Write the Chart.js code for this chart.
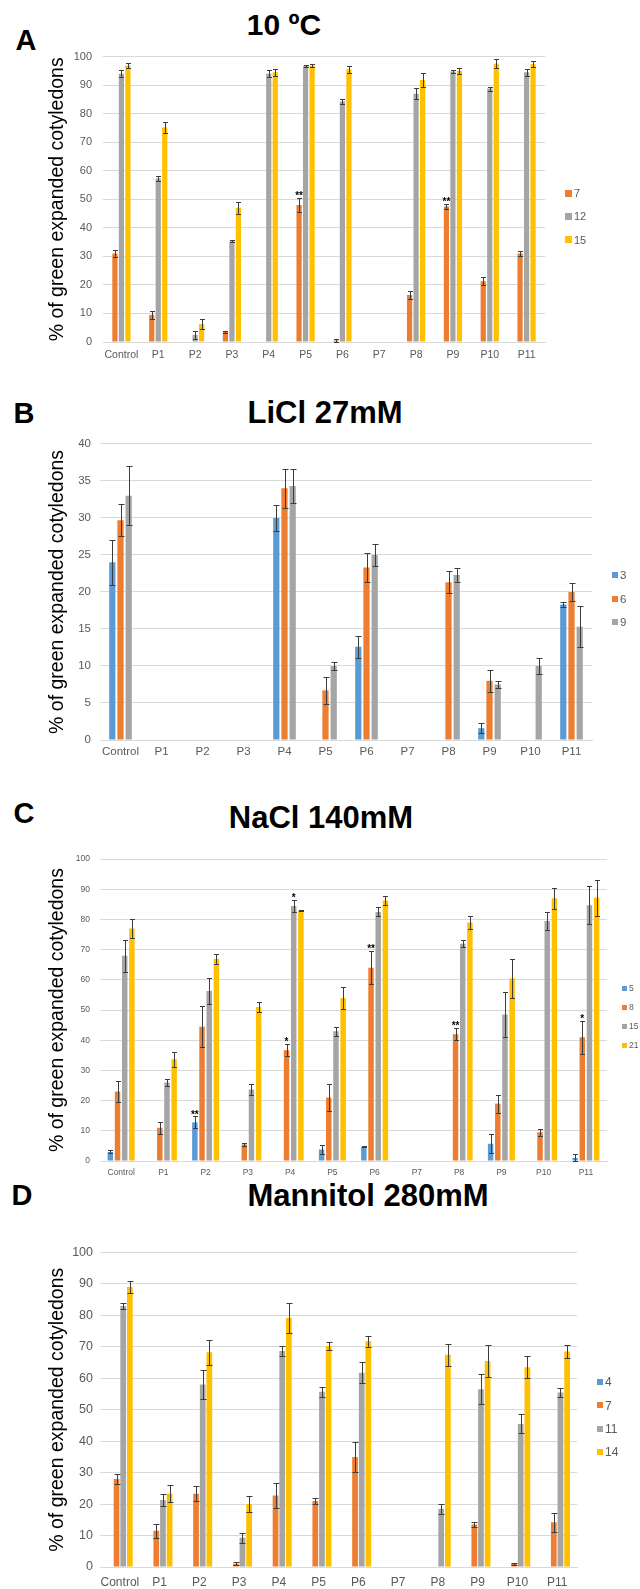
<!DOCTYPE html>
<html>
<head>
<meta charset="utf-8">
<script src="https://cdn.jsdelivr.net/npm/chart.js@4.4.1/dist/chart.umd.min.js"></script>
<style>
    body { margin: 0; background: #fff; width: 640px; height: 1589px; position: relative; overflow: hidden; font-family: "Liberation Sans", Arial, sans-serif; }
    canvas { position: absolute; left: 0; }
    .letter, .title { position: absolute; font-weight: bold; color: #000; line-height: 1; white-space: nowrap; transform: translate(-50%, -50%); }
    .letter { font-size: 29px; }
    .title { font-size: 31px; }
</style>
</head>
<body>
<div class="letter" style="left:26px; top:40px;">A</div>
<div class="title" style="left:284px; top:25px; font-size:30px;">10 ºC</div>
<div class="letter" style="left:24px; top:413px;">B</div>
<div class="title" style="left:325px; top:412px;">LiCl 27mM</div>
<div class="letter" style="left:24px; top:813px;">C</div>
<div class="title" style="left:321px; top:817px;">NaCl 140mM</div>
<div class="letter" style="left:22px; top:1195px;">D</div>
<div class="title" style="left:368px; top:1195px;">Mannitol 280mM</div>

<script>
const categories = ['Control', 'P1', 'P2', 'P3', 'P4', 'P5', 'P6', 'P7', 'P8', 'P9', 'P10', 'P11'];
const yTitle = '% of green expanded cotyledons';

// A - 10 ºC (days 7, 12, 15)
const cold7 = [31, 9.5, null, 3.5, null, 48, 0.5, null, 16.5, 47.5, 21.3, 31];
const cold7Err = [1.2, 1.3, null, 0.5, null, 2.5, 0.5, null, 1.5, 0.8, 1.5, 1];
const cold12 = [94, 57.3, 2.5, 35.3, 94, 96.8, 84.3, null, 87, 94.8, 88.8, 94.5];
const cold12Err = [1.2, 1, 1.5, 0.3, 1.2, 0.3, 0.8, null, 2, 0.5, 0.7, 1.2];
const cold15 = [96.8, 75.2, 6.3, 47, 94.5, 96.8, 95.5, null, 91.8, 95, 97.5, 97.3];
const cold15Err = [0.8, 2, 1.7, 2, 1.2, 0.5, 1.2, null, 2.3, 1, 1.5, 1];
const coldSig = [{ series: 0, index: 5, text: '**' }, { series: 0, index: 9, text: '**' }];

// B - LiCl 27mM (days 3, 6, 9)
const licl3 = [24, null, null, null, 30, null, 12.6, null, null, 1.6, null, 18.3];
const licl3Err = [3, null, null, null, 1.7, null, 1.5, null, null, 0.7, null, 0.3];
const licl6 = [29.7, null, null, null, 34, 6.7, 23.3, null, 21.3, 8, null, 20];
const licl6Err = [2.2, null, null, null, 2.6, 1.8, 1.9, null, 1.5, 1.5, null, 1.2];
const licl9 = [33, null, null, null, 34.3, 10, 25, null, 22.3, 7.5, 10, 15.3];
const licl9Err = [4, null, null, null, 2.3, 0.5, 1.5, null, 0.9, 0.5, 1.1, 2.8];

// C - NaCl 140mM (days 5, 8, 15, 21)
const nacl5 = [3, null, 12.8, null, null, 3.8, 4.7, null, null, 5.7, null, 1];
const nacl5Err = [0.5, null, 2, null, null, 1.6, 0.2, null, null, 3.2, null, 1.3];
const nacl8 = [23, 11, 44.5, 5.5, 36.7, 21, 64, null, 42, 19, 9.5, 41];
const nacl8Err = [3.5, 2, 6.8, 0.6, 2, 4.5, 5.5, null, 2, 3, 1.2, 5.5];
const nacl15 = [68, 26, 56.3, 23.7, 84.5, 43, 82.5, null, 72, 48.5, 79.5, 84.7];
const nacl15Err = [5.3, 1.2, 4.2, 1.8, 2, 1.5, 1.5, null, 1.2, 7.5, 3, 6.3];
const nacl21 = [77, 33.7, 67, 51, 83, 54, 86.3, null, 79, 60.5, 87, 87.2];
const nacl21Err = [3.2, 2.5, 1.7, 1.6, 0.2, 3.5, 1.5, null, 2.2, 6.5, 3.5, 6];
const naclSig = [
    { series: 0, index: 2, text: '**' },
    { series: 1, index: 4, text: '*' },
    { series: 2, index: 4, text: '*' },
    { series: 1, index: 6, text: '**' },
    { series: 1, index: 8, text: '**' },
    { series: 1, index: 11, text: '*' }
];

// D - Mannitol 280mM (days 4, 7, 11, 14)
const mannitol4 = [null, null, null, null, null, null, null, null, null, null, null, null];
const mannitol7 = [28, 11.5, 23.3, 1, 22.7, 21, 35, null, null, 13.5, 1, 14.2];
const mannitol7Err = [1.5, 2.3, 2.3, 0.5, 4, 1, 4.8, null, null, 0.8, 0.3, 3];
const mannitol11 = [83, 21.3, 58, 9.3, 68.7, 55.7, 61.8, null, 18.5, 56.5, 45.5, 55.5];
const mannitol11Err = [1, 1.8, 4.5, 1.6, 1.7, 1.6, 3.3, null, 1.5, 4.8, 3, 1.3];
const mannitol14 = [89, 23.3, 68.3, 20, 79.2, 70.3, 71.8, null, 67.5, 65.5, 63.5, 68.5];
const mannitol14Err = [2, 2.7, 4, 2.6, 4.7, 1.2, 1.8, null, 3.5, 5, 3.5, 2];

const BLUE = '#5B9BD5', ORANGE = '#ED7D31', GRAY = '#A5A5A5', YELLOW = '#FFC000';

Chart.defaults.font.family = "'Liberation Sans', Arial, sans-serif";

// error bars drawn on top of bars
const errorBars = {
    id: 'errorBars',
    afterDatasetsDraw(chart, args, opts) {
        const ctx = chart.ctx;
        const y = chart.scales.y;
        ctx.save();
        ctx.strokeStyle = '#3c3c3c';
        ctx.lineWidth = 1;
        chart.data.datasets.forEach((ds, di) => {
            if (!ds.errors) return;
            chart.getDatasetMeta(di).data.forEach((bar, i) => {
                const v = ds.data[i], e = ds.errors[i];
                if (v == null || e == null) return;
                const x = Math.round(bar.x) + 0.5;
                const top = Math.round(y.getPixelForValue(v + e)) + 0.5;
                const bot = Math.round(y.getPixelForValue(Math.max(v - e, 0))) + 0.5;
                ctx.beginPath();
                ctx.moveTo(x, top); ctx.lineTo(x, bot);
                ctx.moveTo(x - opts.cap, top); ctx.lineTo(x + opts.cap, top);
                ctx.moveTo(x - opts.cap, bot); ctx.lineTo(x + opts.cap, bot);
                ctx.stroke();
            });
        });
        ctx.restore();
    }
};

// significance stars above selected bars
const sigMarks = {
    id: 'sigMarks',
    afterDatasetsDraw(chart, args, opts) {
        if (!opts.marks) return;
        const ctx = chart.ctx;
        const y = chart.scales.y;
        ctx.save();
        ctx.fillStyle = '#000';
        ctx.font = 'bold ' + opts.size + 'px "Liberation Sans", Arial, sans-serif';
        ctx.textAlign = 'center';
        ctx.textBaseline = 'bottom';
        opts.marks.forEach(m => {
            const ds = chart.data.datasets[m.series];
            const bar = chart.getDatasetMeta(m.series).data[m.index];
            const top = ds.data[m.index] + (ds.errors[m.index] || 0);
            ctx.fillText(m.text, bar.x, y.getPixelForValue(top) + opts.size * 0.35);
        });
        ctx.restore();
    }
};

// legend drawn at the right side
const sideLegend = {
    id: 'sideLegend',
    afterDraw(chart, args, opts) {
        const ctx = chart.ctx;
        ctx.save();
        ctx.font = opts.size + 'px "Liberation Sans", Arial, sans-serif';
        ctx.textBaseline = 'middle';
        ctx.textAlign = 'left';
        chart.data.datasets.forEach((ds, i) => {
            const cy = opts.y + i * opts.gap;
            ctx.fillStyle = ds.backgroundColor;
            ctx.fillRect(opts.x, Math.round(cy - opts.box / 2), opts.box, opts.box);
            ctx.fillStyle = '#595959';
            ctx.fillText(ds.label, opts.x + opts.box + 2, cy + 1);
        });
        ctx.restore();
    }
};

Chart.register(errorBars, sigMarks, sideLegend);

const PAD_TOP = 12;

function makeDataset(label, data, errors, color) {
    return { label: label, data: data, errors: errors, backgroundColor: color, borderWidth: 0 };
}

function drawPanel(g, datasets, marks) {
    const canvas = document.createElement('canvas');
    const xHeight = 26;
    const height = PAD_TOP + (g.bottom - g.top) + xHeight;
    canvas.width = 640;
    canvas.height = height;
    canvas.style.top = (g.top - PAD_TOP) + 'px';
    document.body.appendChild(canvas);

    datasets.forEach(ds => {
        ds.categoryPercentage = g.catPct;
        ds.barPercentage = g.barPct;
    });

    new Chart(canvas, {
        type: 'bar',
        data: { labels: categories, datasets: datasets },
        options: {
            responsive: false,
            animation: false,
            devicePixelRatio: 1,
            layout: { autoPadding: false, padding: { left: 0, right: 640 - g.right, top: PAD_TOP, bottom: 0 } },
            plugins: {
                legend: { display: false },
                tooltip: { enabled: false },
                errorBars: { cap: g.cap },
                sigMarks: { marks: marks, size: 10 },
                sideLegend: { x: g.legX, y: g.legY - (g.top - PAD_TOP), gap: g.legGap, box: g.legBox, size: g.legFont }
            },
            scales: {
                x: {
                    grid: { display: false, drawTicks: false },
                    border: { display: true, color: '#d9d9d9' },
                    ticks: { font: { size: g.xFont }, color: '#595959', padding: g.xPad, maxRotation: 0, autoSkip: false },
                    afterFit: s => { s.height = xHeight; }
                },
                y: {
                    min: 0,
                    max: g.max,
                    ticks: { stepSize: g.step, font: { size: g.yFont }, color: '#595959', padding: g.yPad },
                    grid: { color: '#d9d9d9', drawTicks: false },
                    border: { display: false },
                    title: { display: true, text: yTitle, font: { size: 19.5 }, color: '#000', padding: { top: 46, bottom: 0 } },
                    afterFit: s => { s.width = g.left; }
                }
            }
        }
    });
}

drawPanel(
    { top: 51, bottom: 342, left: 103, right: 545, max: 100, step: 10, catPct: 0.53, barPct: 0.8, cap: 2.5,
      xFont: 10.5, xPad: 7, yFont: 11, yPad: 11, legX: 565, legY: 193, legGap: 23.3, legBox: 7, legFont: 11 },
    [
        makeDataset('7', cold7, cold7Err, ORANGE),
        makeDataset('12', cold12, cold12Err, GRAY),
        makeDataset('15', cold15, cold15Err, YELLOW)
    ],
    coldSig
);

drawPanel(
    { top: 440, bottom: 740, left: 100, right: 592, max: 40, step: 5, catPct: 0.6, barPct: 0.76, cap: 3,
      xFont: 11.5, xPad: 5, yFont: 11.5, yPad: 9, legX: 612, legY: 575, legGap: 23.5, legBox: 6, legFont: 11.5 },
    [
        makeDataset('3', licl3, licl3Err, BLUE),
        makeDataset('6', licl6, licl6Err, ORANGE),
        makeDataset('9', licl9, licl9Err, GRAY)
    ],
    []
);

drawPanel(
    { top: 856, bottom: 1161, left: 100, right: 607, max: 100, step: 10, catPct: 0.68, barPct: 0.76, cap: 2.5,
      xFont: 8.5, xPad: 7, yFont: 8.5, yPad: 10, legX: 622, legY: 988, legGap: 19, legBox: 5, legFont: 8.5 },
    [
        makeDataset('5', nacl5, nacl5Err, BLUE),
        makeDataset('8', nacl8, nacl8Err, ORANGE),
        makeDataset('15', nacl15, nacl15Err, GRAY),
        makeDataset('21', nacl21, nacl21Err, YELLOW)
    ],
    naclSig
);

drawPanel(
    { top: 1250, bottom: 1567, left: 100, right: 577, max: 100, step: 10, catPct: 0.67, barPct: 0.86, cap: 3,
      xFont: 12, xPad: 8, yFont: 12.5, yPad: 7, legX: 597, legY: 1382, legGap: 23.3, legBox: 6, legFont: 12 },
    [
        makeDataset('4', mannitol4, null, BLUE),
        makeDataset('7', mannitol7, mannitol7Err, ORANGE),
        makeDataset('11', mannitol11, mannitol11Err, GRAY),
        makeDataset('14', mannitol14, mannitol14Err, YELLOW)
    ],
    []
);
</script>
</body>
</html>
